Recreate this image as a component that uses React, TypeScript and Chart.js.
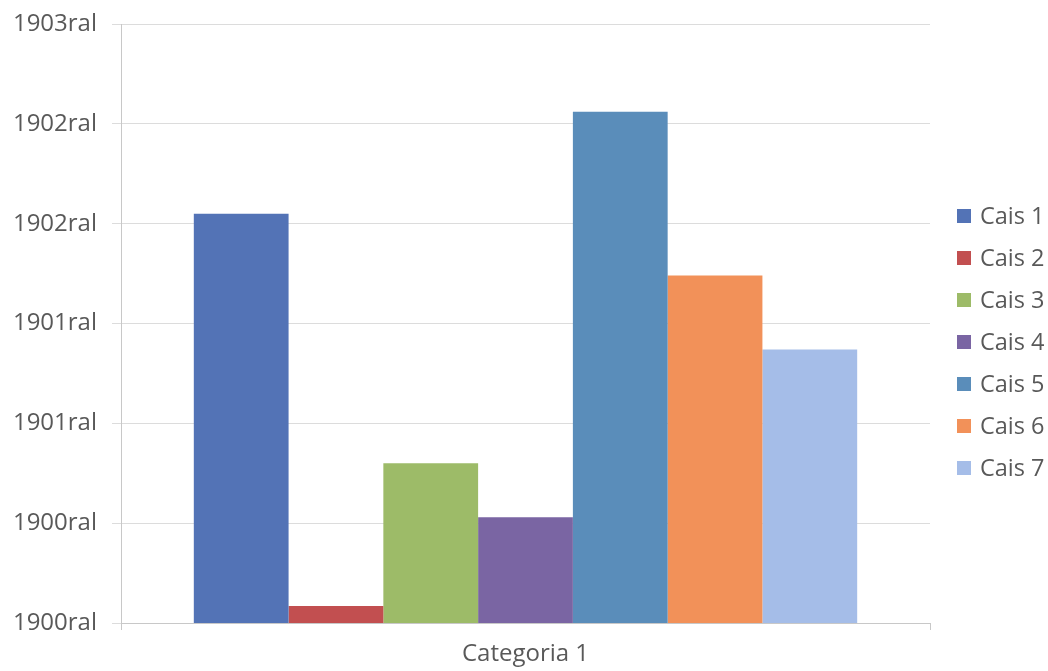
import React, { useEffect, useRef } from "react";
import { Chart, registerables } from "chart.js";

Chart.register(...registerables);

const categories = ["Categoria 1"];
const seriesNames = ["Cais 1", "Cais 2", "Cais 3", "Cais 4", "Cais 5", "Cais 6", "Cais 7"];
const seriesValues = [1902.05, 1900.085, 1900.8, 1900.53, 1902.56, 1901.74, 1901.37];
const seriesColors = ["#5373b6", "#c24f50", "#9dbb68", "#7a65a3", "#5a8dba", "#f29159", "#a5bde8"];
const yTickLabels = ["1900ral", "1900ral", "1901ral", "1901ral", "1902ral", "1902ral", "1903ral"];
const yMin = 1900;
const yMax = 1903;
const yStep = 0.5;

const FONT = "'Open Sans', sans-serif";
const TEXT_COLOR = "#595959";

const legendPlugin = {
  id: "sideLegend",
  afterDraw(chart: any) {
    const ctx = chart.ctx;
    const ds = chart.data.datasets;
    ctx.save();
    ctx.font = `23.5px ${FONT}`;
    ctx.textBaseline = "middle";
    ctx.textAlign = "left";
    ds.forEach((d: any, i: number) => {
      const cy = 216 + i * 42;
      ctx.fillStyle = d.backgroundColor;
      ctx.fillRect(957, cy - 7, 14, 14);
      ctx.fillStyle = TEXT_COLOR;
      ctx.fillText(d.label, 980, cy + 1);
    });
    ctx.restore();
  },
};

export default function App() {
  const ref = useRef<HTMLCanvasElement>(null);
  useEffect(() => {
    if (!ref.current) return;
    const chart = new Chart(ref.current, {
      type: "bar",
      data: {
        labels: categories,
        datasets: seriesNames.map((name, i) => ({
          label: name,
          data: [seriesValues[i]],
          backgroundColor: seriesColors[i],
          borderWidth: 0,
          categoryPercentage: 0.82,
          barPercentage: 1,
        })),
      },
      options: {
        animation: false,
        responsive: true,
        maintainAspectRatio: false,
        layout: { padding: { top: 24, right: 118, left: 0, bottom: 0 } },
        plugins: {
          legend: { display: false },
          tooltip: { enabled: false },
        },
        scales: {
          x: {
            afterFit: (s: any) => { s.height = 48; s.paddingLeft = 0; s.paddingRight = 0; },
            grid: { display: true, drawOnChartArea: false, drawTicks: true, tickLength: 7, color: "#c8c8c8" },
            border: { display: true, color: "#c8c8c8" },
            ticks: { font: { family: FONT, size: 24 }, color: TEXT_COLOR, padding: 10 },
          },
          y: {
            min: yMin,
            max: yMax,
            afterFit: (s: any) => { s.width = 121; s.paddingTop = 0; s.paddingBottom = 0; },
            ticks: {
              stepSize: yStep,
              font: { family: FONT, size: 24 },
              color: TEXT_COLOR,
              padding: 15,
              callback: (_v: any, idx: number) => yTickLabels[idx],
            },
            grid: { color: "#dcdcdc", tickLength: 9, drawTicks: true },
            border: { display: true, color: "#c8c8c8" },
          },
        },
      },
      plugins: [legendPlugin],
    });
    return () => chart.destroy();
  }, []);
  return (
    <div style={{ position: "fixed", left: 0, top: 0, width: 1048, height: 671, background: "#fff" }}>
      <canvas ref={ref} />
    </div>
  );
}
